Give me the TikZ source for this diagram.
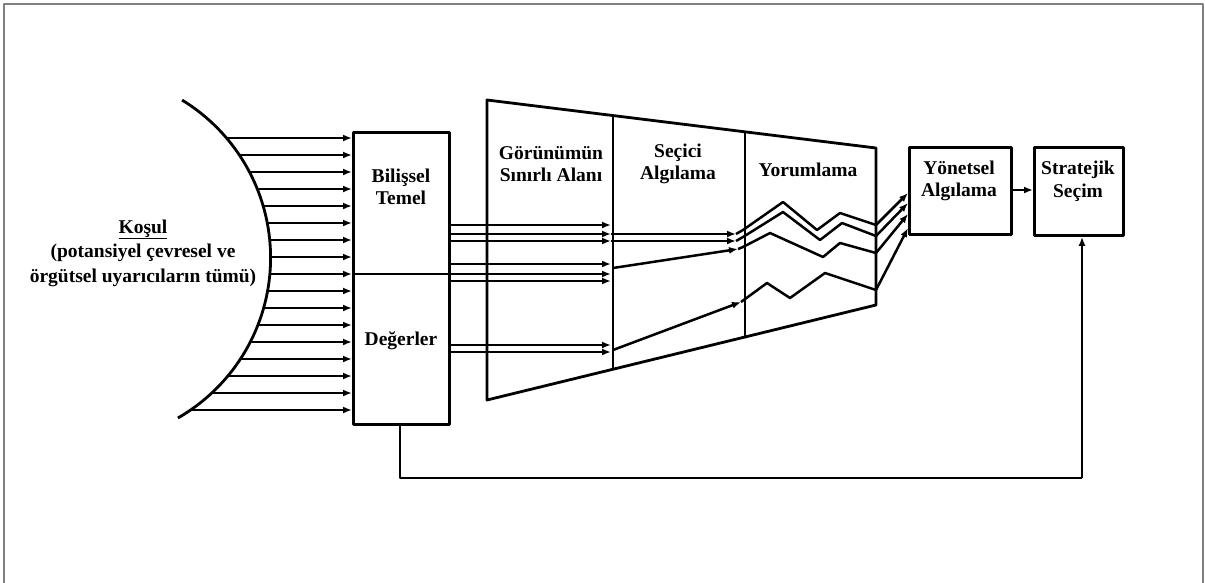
\documentclass[tikz,border=0pt]{standalone}
\usepackage{fontspec}
\setmainfont{Liberation Serif}
\usetikzlibrary{arrows.meta,calc}
\begin{document}
\begin{tikzpicture}[x=1pt,y=-1pt,line join=round,
  ln/.style={line width=2.5pt},
  arr/.style={line width=2.5pt,-{Latex[length=9pt,width=7pt]}},
  bx/.style={draw,line width=2.8pt,inner sep=0pt,anchor=north west},
  lbl/.style={font=\fontsize{19.5}{22.5}\selectfont\bfseries,align=center,inner sep=0pt}]
\useasboundingbox (0,0) rectangle (1205,582);
% frame
\draw[gray,line width=1.5pt] (4,584) -- (4,4) -- (1203,4) -- (1203,584);
% condition arc
\draw[ln,line width=2.8pt] plot[domain=-58.6:60.1,samples=80] ({85.8+184.8*cos(\x)},{257.8+184.8*sin(\x)});
\node[lbl,font=\fontsize{19.5}{24.5}\selectfont\bfseries] (K) at (143,253) {\underline{Koşul}\\(potansiyel çevresel ve\\örgütsel uyarıcıların tümü)};
% cognitive base / values box
\node[bx,minimum width=96pt,minimum height=292pt] (BT) at (352,131) {};
\node[lbl] (BTt) at (401,187) {Bilişsel\\Temel};
\node[lbl] (DG) at (401,341) {Değerler};
\foreach \yy in {138,155,...,410}{
  \pgfmathsetmacro\xa{85.8+184.8*sqrt(1-((\yy-257.8)/184.8)^2)}
  \draw[arr] (\xa,\yy) -- (352,\yy);
}
\draw[ln] (352,274) -- (448,274);
% trapezoid
\coordinate (T1) at (487,100);
\coordinate (T2) at (876,148);
\coordinate (T3) at (876,305);
\coordinate (T4) at (487,400);
\draw[ln,line width=2.8pt] (T1) -- (T2) -- (T3) -- (T4) -- cycle;
\draw[ln] (613,115.5) -- (613,369.2);
\draw[ln] (745,131.8) -- (745,337);
\node[lbl] (GS) at (551,164) {Görünümün\\Sınırlı Alanı};
\node[lbl] (SA) at (678,164) {Seçici\\Algılama};
\node[lbl] (YO) at (808,170) {Yorumlama};
% bundle lines
\draw[arr] (448,225) -- (611,225);
\draw[arr] (448,234) -- (611,234);
\draw[arr] (611,234) -- (736,234);
\draw[arr] (448,241) -- (611,241);
\draw[arr] (611,241) -- (736,241);
\draw[arr] (448,264) -- (611,264);
\draw[arr] (448,274) -- (611,274);
\draw[arr] (448,281) -- (611,281);
\draw[arr] (613,268) -- (738,249);
\draw[arr] (448,345) -- (611,345);
\draw[arr] (448,352) -- (611,352);
\draw[arr] (613,350) -- (741,302);
% zigzags
\draw[ln] (736,234) -- (743,230) -- (783,202) -- (817,230) -- (840,213) -- (876,225);
\draw[ln] (736,241) -- (743,237) -- (783,212) -- (820,240) -- (842,223) -- (876,236);
\draw[ln] (738,249) -- (743,247) -- (770,233) -- (823,257) -- (840,243) -- (876,253);
\draw[ln] (741,302) -- (767,283) -- (790,298) -- (825,273) -- (876,290);
% boxes right
\node[bx,minimum width=102pt,minimum height=87pt] (YA) at (908,146) {};
\node[lbl] (YAt) at (959,181) {Yönetsel\\Algılama};
\node[bx,minimum width=89pt,minimum height=88pt] (SS) at (1033,146) {};
\node[lbl] (SSt) at (1078,181) {Stratejik\\Seçim};
\draw[arr] (876,225) -- (908,193);
\draw[arr] (876,236) -- (908,203);
\draw[arr] (876,253) -- (908,214);
\draw[arr] (876,290) -- (908,228);
\draw[arr] (YA.east |- 0,190) -- (SS.west |- 0,190);
% feedback
\coordinate (F1) at (400,478);
\coordinate (F2) at (1082,478);
\draw[ln] (BT.south -| F1) -- (F1) -- (F2);
\draw[arr] (F2) -- (SS.south -| F2);
\end{tikzpicture}
\end{document}
